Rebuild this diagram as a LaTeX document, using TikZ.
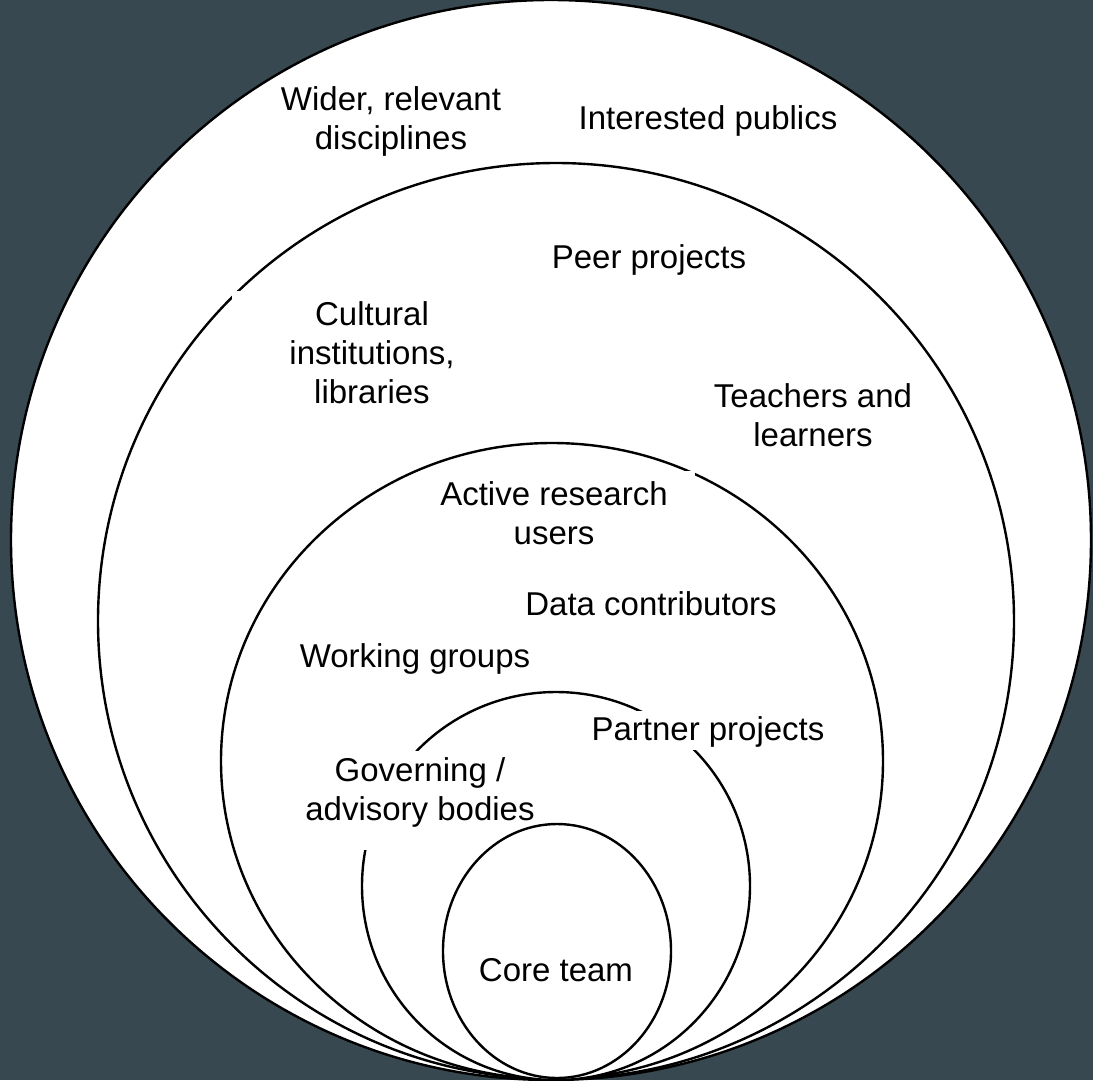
\documentclass[tikz,border=0pt]{standalone}
\usepackage{fontspec}
\setmainfont{Liberation Sans}
\definecolor{bgslate}{RGB}{56,72,80}
\begin{document}
\begin{tikzpicture}[x=1pt,y=-1pt,
  ring/.style={draw=black,fill=white,line width=2.4pt},
  lbl/.style={align=center,inner sep=0pt,font=\fontsize{33}{39}\selectfont},
  gapbox/.style={fill=white}]
\useasboundingbox (0,0) rectangle (1093,1080);
\fill[bgslate] (0,0) rectangle (1093,1080);
% nested rings, all touching at the bottom
\draw[ring] (551,540) circle [radius=540];
\draw[ring] (556,621) circle [radius=458];
\draw[ring] (552,761) ellipse [x radius=331, y radius=318];
\draw[ring] (556,886) circle [radius=194];
% white text-box backgrounds that interrupt the rings
\fill[gapbox] (232,291) rectangle (510,420);
\fill[gapbox] (430,471) rectangle (695,560);
\fill[gapbox] (285,751) rectangle (530,850);
\fill[gapbox] (585,711) rectangle (830,750);
% innermost ring
\draw[ring] (557,951) ellipse [x radius=114, y radius=127];
% labels
\node[lbl] (wider) at (391,121) {Wider, relevant\\disciplines};
\node[lbl] (publics) at (708,121) {Interested publics};
\node[lbl] (peer) at (649,260) {Peer projects};
\node[lbl] (cultural) at (372,353) {Cultural\\institutions,\\libraries};
\node[lbl] (teachers) at (813,415) {Teachers and\\learners};
\node[lbl] (active) at (554,513) {Active research\\users};
\node[lbl] (data) at (651,604) {Data contributors};
\node[lbl] (working) at (415,659) {Working groups};
\node[lbl] (partner) at (708,732) {Partner projects};
\node[lbl] (governing) at (420,792) {Governing /\\advisory bodies};
\node[lbl] (core) at (556,970) {Core team};
\end{tikzpicture}
\end{document}
